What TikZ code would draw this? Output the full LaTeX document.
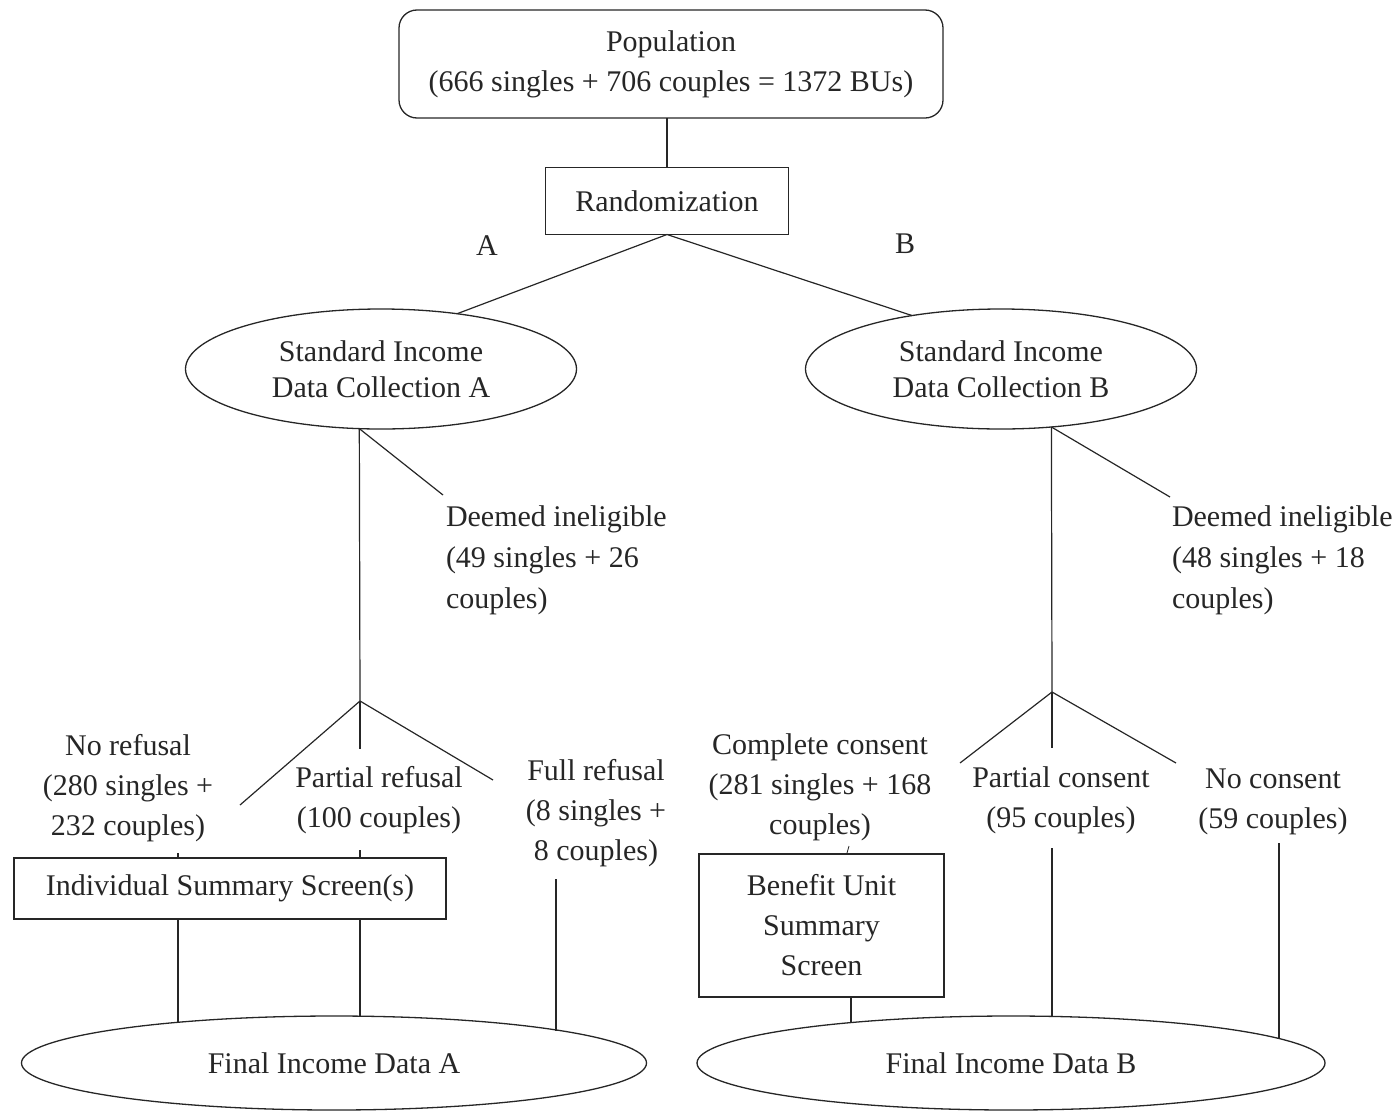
\documentclass[tikz,border=0pt]{standalone}
\usepackage{fontspec}
\setmainfont{Liberation Serif}
\usetikzlibrary{shapes.geometric}
\begin{document}
\begin{tikzpicture}[x=1pt,y=-1pt,
  every node/.style={font=\fontsize{30}{40}\selectfont, inner sep=0pt, outer sep=0pt},
  conn/.style={line width=1.2pt, black!85},
  boxn/.style={draw, line width=1.3pt, black!85, text=black!85, align=center},
  ell/.style={draw, ellipse, line width=1.3pt, black!85, text=black!85, align=center},
  lbl/.style={text=black!85, align=center}]
\useasboundingbox (0,0) rectangle (1399,1111);

% main nodes
\node[boxn, rounded corners=18pt, minimum width=544pt, minimum height=108pt] (pop) at (671,64)
  {Population\\(666 singles + 706 couples = 1372 BUs)};
\node[boxn, minimum width=243pt, minimum height=67pt] (rand) at (667,201) {Randomization};
\node[lbl] (la) at (487,246) {A};
\node[lbl] (lb) at (905,244) {B};

\node[ell, minimum width=391pt, minimum height=120pt, font=\fontsize{30}{36}\selectfont] (sa) at (381,369)
  {Standard Income\\Data Collection A};
\node[ell, minimum width=391pt, minimum height=120pt, font=\fontsize{30}{36}\selectfont] (sb) at (1001,369)
  {Standard Income\\Data Collection B};

\node[lbl, align=left, anchor=west, font=\fontsize{30}{41}\selectfont] (da) at (446,560)
  {Deemed ineligible\\(49 singles + 26\\couples)};
\node[lbl, align=left, anchor=west, font=\fontsize{30}{41}\selectfont] (db) at (1172,560)
  {Deemed ineligible\\(48 singles + 18\\couples)};

\node[lbl] (nr) at (128,788) {No refusal\\(280 singles +\\232 couples)};
\node[lbl] (pr) at (379,800) {Partial refusal\\(100 couples)};
\node[lbl] (fr) at (596,813) {Full refusal\\(8 singles +\\8 couples)};

\node[lbl] (cc) at (820,787) {Complete consent\\(281 singles + 168\\couples)};
\node[lbl] (pc) at (1061,800) {Partial consent\\(95 couples)};
\node[lbl] (nc) at (1273,802) {No consent\\(59 couples)};

\node[boxn, minimum width=432pt, minimum height=61pt] (iss) at (230,888.5) {Individual Summary Screen(s)};
\node[boxn, minimum width=245pt, minimum height=143pt] (buss) at (821.5,925.5) {Benefit Unit\\Summary\\Screen};

\node[ell, minimum width=625pt, minimum height=94pt] (fa) at (334,1063) {Final Income Data A};
\node[ell, minimum width=628pt, minimum height=94pt] (fb) at (1011,1063) {Final Income Data B};

% coordinates for free ends
\coordinate (brA) at (360,701);
\coordinate (brB) at (1052,692);
\coordinate (daEnd) at (443,495);
\coordinate (dbEnd) at (1170,497);
\coordinate (aL) at (240,805);
\coordinate (aM) at (360,749);
\coordinate (aR) at (493,780);
\coordinate (bL) at (960,763);
\coordinate (bM) at (1052,748);
\coordinate (bR) at (1176,763);
\coordinate (s1) at (178,853);
\coordinate (s2) at (360,850);
\coordinate (s3a) at (849,846);
\coordinate (s3b) at (847,853);
\coordinate (frTop) at (556,879);
\coordinate (pcTop) at (1052,848);
\coordinate (ncTop) at (1279,843);
\coordinate (xb1) at (851,0);

% connectors
\draw[conn] (rand.north) -- (rand.north |- pop.south);
\draw[conn] (rand.south) -- (sa.36.87);
\draw[conn] (rand.south) -- (sb.149.74);

\draw[conn] (sa.250.62) -- (brA);
\draw[conn] (sa.250.62) -- (daEnd);
\draw[conn] (sb.311.37) -- (brB);
\draw[conn] (sb.311.37) -- (dbEnd);

\draw[conn] (brA) -- (aL);
\draw[conn] (brA) -- (aM);
\draw[conn] (brA) -- (aR);
\draw[conn] (brB) -- (bL);
\draw[conn] (brB) -- (bM);
\draw[conn] (brB) -- (bR);

\draw[conn] (s1) -- (s1 |- iss.north);
\draw[conn] (s2) -- (s2 |- iss.north);
\draw[conn, line width=0.8pt] (s3a) -- (s3b);

\draw[conn] (s1 |- iss.south) -- (s1 |- fa.165.38);
\draw[conn] (s2 |- iss.south) -- (s2 |- fa.60.95);
\draw[conn] (frTop) -- (frTop |- fa.8.48);

\draw[conn] (xb1 |- buss.south) -- (xb1 |- fb.165.83);
\draw[conn] (pcTop) -- (pcTop |- fb.48.66);
\draw[conn] (ncTop) -- (ncTop |- fb.5.22);
\end{tikzpicture}
\end{document}
